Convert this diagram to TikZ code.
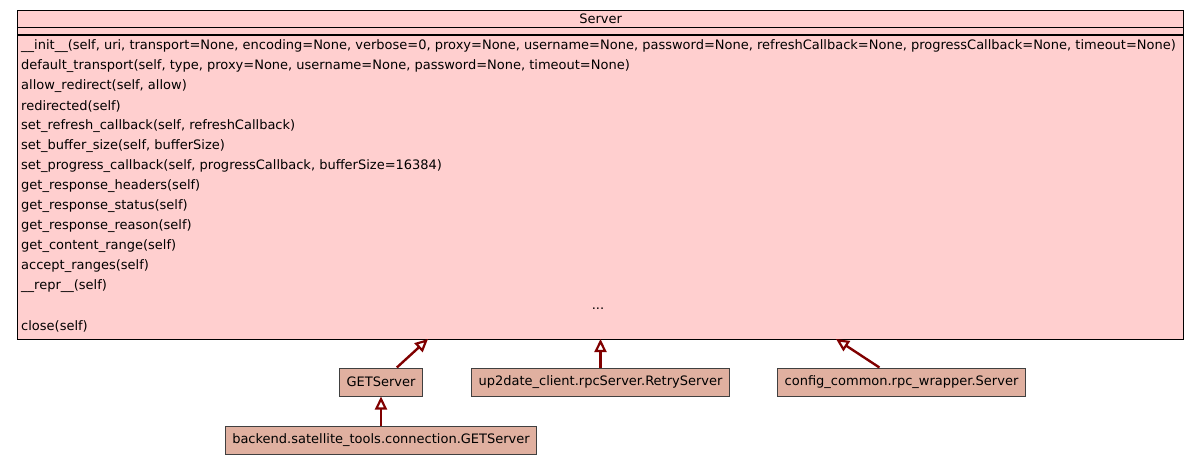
\documentclass[tikz,border=0pt]{standalone}
\usepackage{fontspec}
\setmainfont{DejaVu Sans}
\usepackage{tikz}
\usetikzlibrary{arrows.meta, positioning}
\definecolor{colorBase}{HTML}{FFCFCF}
\definecolor{colorDerived}{HTML}{E0B0A0}
\definecolor{colorFrame}{HTML}{404040}
\definecolor{colorInherit}{HTML}{800000}
\tikzset{
  classbox/.style={draw=black, fill=colorBase, line width=1.2pt, inner sep=0pt},
  member/.style={font=\fontsize{13}{15}\selectfont, inner sep=0pt, anchor=west},
  derived/.style={draw=colorFrame, fill=colorDerived, line width=1pt, minimum height=28pt, inner xsep=7pt, font=\fontsize{13}{15}\selectfont},
  inherits/.style={colorInherit, line width=2.4pt, -{Triangle[open, length=13pt, width=12pt, line width=2.2pt]}}
}
\begin{document}
\begin{tikzpicture}[x=1pt, y=-1pt, node distance=29pt]
\useasboundingbox (0,0) rectangle (1199,464);
\node[classbox, minimum width=1166pt, minimum height=329pt, anchor=north west] (server) at (17,10) {};
\draw[line width=1.2pt] ([yshift=-17.5pt]server.north west) -- ([yshift=-17.5pt]server.north east);
\draw[line width=1.2pt] ([yshift=-25pt]server.north west) -- ([yshift=-25pt]server.north east);
\node[member, anchor=center] (title) at ([yshift=-9pt]server.north) {Server};
\foreach \m [count=\i] in {{\_\_init\_\_(self, uri, transport=None, encoding=None, verbose=0, proxy=None, username=None, password=None, refreshCallback=None, progressCallback=None, timeout=None)},
  {default\_transport(self, type, proxy=None, username=None, password=None, timeout=None)},
  {allow\_redirect(self, allow)}, {redirected(self)}, {set\_refresh\_callback(self, refreshCallback)},
  {set\_buffer\_size(self, bufferSize)}, {set\_progress\_callback(self, progressCallback, bufferSize=16384)},
  {get\_response\_headers(self)}, {get\_response\_status(self)}, {get\_response\_reason(self)},
  {get\_content\_range(self)}, {accept\_ranges(self)}, {\_\_repr\_\_(self)}}
  \node[member] (m\i) at (21, 26+20*\i) {\m};
\node[member, anchor=center] (more) at (598,308.5) {...};
\node[member] (close) at (21,326) {close(self)};

% subclasses
\node[derived] (getserver) at (381,382) {GETServer};
\node[derived] (retryserver) at (600.5,382) {up2date\_client.rpcServer.RetryServer};
\node[derived] (wrapserver) at (901.5,382) {config\_common.rpc\_wrapper.Server};
\node[derived, below=of getserver] (satgetserver) {backend.satellite\_tools.connection.GETServer};

\coordinate (tipA) at (428,339);
\coordinate (tipB) at (600.5,339);
\coordinate (tipC) at (836,339);
\draw[inherits] (getserver) -- (tipA);
\draw[inherits] (retryserver) -- (tipB);
\draw[inherits] (wrapserver) -- (tipC);
\draw[inherits] (satgetserver) -- (getserver);
\end{tikzpicture}
\end{document}
